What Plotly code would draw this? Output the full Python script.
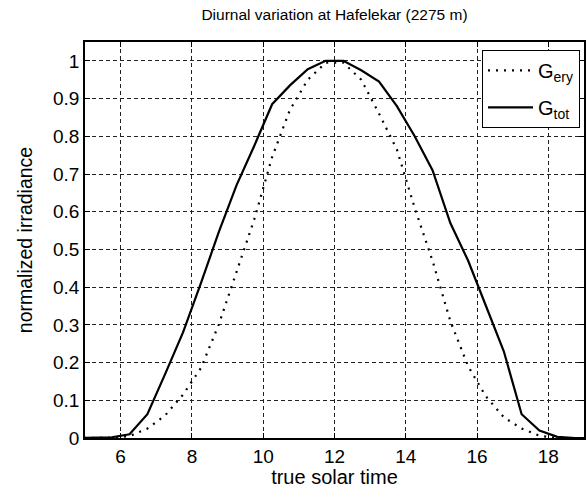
import plotly.graph_objects as go

# true solar time (h)
hours = [4.75, 5.25, 5.75, 6.25, 6.75, 7.25, 7.75, 8.25, 8.75, 9.25, 9.75,
         10.25, 10.75, 11.25, 11.75, 12.25, 12.75, 13.25, 13.75, 14.25,
         14.75, 15.25, 15.75, 16.25, 16.75, 17.25, 17.75, 18.25, 18.75, 19.25]

# normalized erythemal irradiance
g_ery = [0.0, 0.0, 0.001, 0.005, 0.025, 0.06, 0.115, 0.185, 0.30, 0.44, 0.58,
         0.745, 0.87, 0.95, 0.995, 0.995, 0.95, 0.86, 0.765, 0.61,
         0.47, 0.31, 0.19, 0.11, 0.055, 0.025, 0.006, 0.0, 0.0, 0.0]

# normalized total irradiance
g_tot = [0.0, 0.0, 0.002, 0.01, 0.063, 0.17, 0.28, 0.41, 0.545, 0.67, 0.775,
         0.885, 0.935, 0.978, 1.0, 1.0, 0.975, 0.945, 0.88, 0.80,
         0.71, 0.57, 0.47, 0.35, 0.23, 0.063, 0.02, 0.003, 0.0, 0.0]

x_ticks = [6, 8, 10, 12, 14, 16, 18]
y_ticks = [0, 0.1, 0.2, 0.3, 0.4, 0.5, 0.6, 0.7, 0.8, 0.9, 1]
y_tick_text = ["0", "0.1", "0.2", "0.3", "0.4", "0.5", "0.6", "0.7", "0.8", "0.9", "1"]

FONT = "Liberation Sans, Arial, Helvetica, sans-serif"

fig = go.Figure()
fig.add_trace(go.Scatter(
    x=hours, y=g_ery, mode="lines", name="G<sub>ery</sub>", legendgroup="a",
    line=dict(color="black", width=2.2, dash="2px,6px"),
))
fig.add_trace(go.Scatter(
    x=hours, y=g_tot, mode="lines", name="G<sub>tot</sub>", legendgroup="b",
    line=dict(color="black", width=2.2),
))

axis_common = dict(
    showline=True, linecolor="black", linewidth=1.5, mirror="ticks",
    ticks="inside", ticklen=5, tickcolor="black", tickwidth=1,
    showgrid=True, gridcolor="#222222", gridwidth=0.8, griddash="4px,3px",
    zeroline=False, automargin=False,
    tickfont=dict(family=FONT, size=19, color="black"),
)

fig.update_xaxes(
    range=[5, 19], tickvals=x_ticks, **axis_common,
    title=dict(text="true solar time", font=dict(family=FONT, size=20, color="black"), standoff=2),
)
fig.update_yaxes(
    range=[0, 1.05], tickvals=y_ticks, ticktext=y_tick_text, **axis_common,
    title=dict(text="normalized irradiance", font=dict(family=FONT, size=19.5, color="black"), standoff=15),
)

fig.update_layout(
    width=587, height=488,
    margin=dict(l=85, r=3, t=42, b=50),
    paper_bgcolor="white", plot_bgcolor="white",
    title=dict(text="Diurnal variation at Hafelekar (2275 m)",
               font=dict(family=FONT, size=15.5, color="black"),
               x=(85 + 584) / 2 / 587, xanchor="center",
               y=1 - 15 / 488, yanchor="middle", yref="container"),
    legend=dict(
        x=0.992, xanchor="right", y=0.98, yanchor="top",
        bgcolor="white", bordercolor="black", borderwidth=1,
        font=dict(family=FONT, size=20, color="black"),
        traceorder="grouped", tracegroupgap=8, itemwidth=45,
    ),
    showlegend=True,
)

fig.write_html("out.html", config={"displayModeBar": False},
               post_script="document.body.style.margin='0';")
